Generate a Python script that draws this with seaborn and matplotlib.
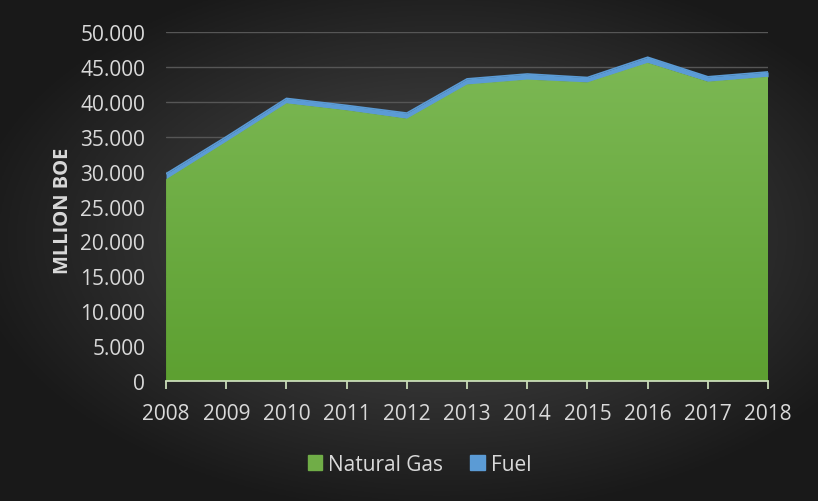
import numpy as np
import pandas as pd
import matplotlib
matplotlib.use("Agg")
import matplotlib.pyplot as plt
from matplotlib.patches import Patch
import seaborn as sns

# Production by year, million BOE
years = [2008, 2009, 2010, 2011, 2012, 2013, 2014, 2015, 2016, 2017, 2018]
natural_gas = [28.9, 34.3, 39.8, 38.8, 37.6, 42.5, 43.2, 42.8, 45.6, 42.9, 43.6]
fuel = [0.8, 0.7, 0.7, 0.7, 0.8, 0.8, 0.8, 0.7, 0.8, 0.7, 0.7]
y_ticks = [0, 5, 10, 15, 20, 25, 30, 35, 40, 45, 50]
y_tick_labels = ["0", "5.000", "10.000", "15.000", "20.000", "25.000",
                 "30.000", "35.000", "40.000", "45.000", "50.000"]

df = pd.DataFrame({"year": years, "Natural Gas": natural_gas, "Fuel": fuel})
df["total"] = df["Natural Gas"] + df["Fuel"]

sns.set_theme(style="dark")
plt.rcParams["font.family"] = ["Open Sans", "DejaVu Sans"]

TEXT = "#d9d9d9"
GREEN = "#70ad47"
BLUE = "#5b9bd5"
FS = 15

fig = plt.figure(figsize=(8.18, 5.02), dpi=100)

# Radial dark background
bg = fig.add_axes([0, 0, 1, 1], zorder=-5)
gx, gy = np.meshgrid(np.linspace(-1, 1, 400), np.linspace(-1, 1, 250))
r = np.sqrt(((gx - 0.08) / 1.05) ** 2 + ((gy - 0.05) / 1.0) ** 2)
shade = np.clip(0.31 - 0.19 * r, 0.1, 0.32)
bg.imshow(np.dstack([shade] * 3), extent=[0, 1, 0, 1], aspect="auto", origin="lower")
bg.set_axis_off()

ax = fig.add_axes([0.203, 0.239, 0.736, 0.695])
ax.patch.set_alpha(0)

# Fuel band on top of natural gas
ax.fill_between(df["year"], df["Natural Gas"], df["total"], color=BLUE, lw=0, zorder=2)
gas_poly = ax.fill_between(df["year"], 0, df["Natural Gas"], color=GREEN, lw=0, zorder=3)

# Vertical green gradient clipped to the natural gas area
grad = np.linspace(0, 1, 256).reshape(-1, 1)
top = np.array([0x7c, 0xb8, 0x54]) / 255
bot = np.array([0x5d, 0xa0, 0x31]) / 255
img = bot + (top - bot) * grad[..., None]
im = ax.imshow(img, extent=[years[0], years[-1], 0, max(natural_gas)], origin="lower",
               aspect="auto", zorder=4)
im.set_clip_path(gas_poly.get_paths()[0], transform=ax.transData)
gas_poly.set_alpha(0)

sns.lineplot(x=df["year"], y=df["total"], ax=ax, color=BLUE, lw=1.2, zorder=2)

ax.set_xlim(years[0], years[-1])
ax.set_ylim(0, 50)
ax.set_yticks(y_ticks)
ax.set_yticklabels(y_tick_labels)
ax.set_xticks(years)
ax.set_xticklabels([str(y) for y in years])
ax.grid(axis="y", color="#565656", lw=1.0, zorder=0)
ax.grid(axis="x", visible=False)
ax.set_axisbelow(True)

for s in ["top", "right", "left"]:
    ax.spines[s].set_visible(False)
ax.spines["bottom"].set_color("#c9dcb8")
ax.spines["bottom"].set_linewidth(1.3)
ax.spines["bottom"].set_zorder(6)

ax.tick_params(axis="x", colors="#c9dcb8", length=6, width=1.3, direction="out",
               labelcolor=TEXT, labelsize=FS, pad=10, bottom=True)
ax.tick_params(axis="y", length=0, labelcolor=TEXT, labelsize=FS, pad=15)

ax.set_xlabel("")
ax.set_ylabel("MLLION BOE", color=TEXT, fontsize=14.5, fontweight="bold")
ax.yaxis.set_label_coords(-0.155, 0.49)

handles = [Patch(color=GREEN, label="Natural Gas"), Patch(color=BLUE, label="Fuel")]
fig.legend(handles=handles, loc="center", bbox_to_anchor=(0.513, 0.073), ncol=2,
           frameon=False, fontsize=FS, labelcolor=TEXT, handlelength=0.7,
           handleheight=0.7, handletextpad=0.3, columnspacing=1.3)

fig.savefig("out.png", dpi=100)
